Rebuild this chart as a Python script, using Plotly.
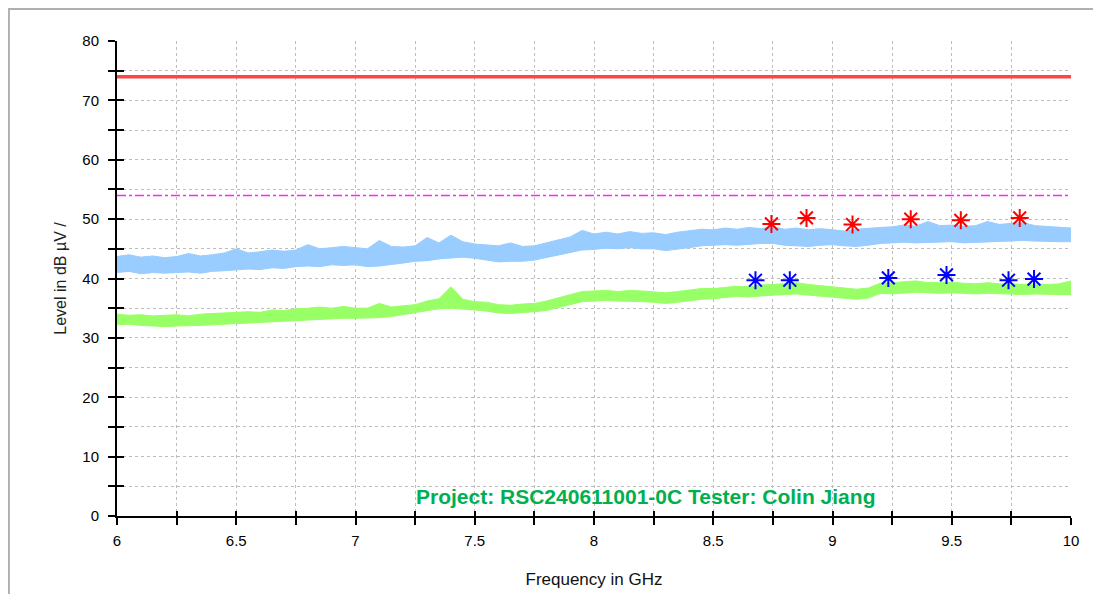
import plotly.graph_objects as go

# ---------------- data ----------------
freq_ghz = [6.00, 6.05, 6.10, 6.15, 6.20, 6.25, 6.30, 6.35, 6.40, 6.45,
            6.50, 6.55, 6.60, 6.65, 6.70, 6.75, 6.80, 6.85, 6.90, 6.95,
            7.00, 7.05, 7.10, 7.15, 7.20, 7.25, 7.30, 7.35, 7.40, 7.45,
            7.50, 7.55, 7.60, 7.65, 7.70, 7.75, 7.80, 7.85, 7.90, 7.95,
            8.00, 8.05, 8.10, 8.15, 8.20, 8.25, 8.30, 8.35, 8.40, 8.45,
            8.50, 8.55, 8.60, 8.65, 8.70, 8.75, 8.80, 8.85, 8.90, 8.95,
            9.00, 9.05, 9.10, 9.15, 9.20, 9.25, 9.30, 9.35, 9.40, 9.45,
            9.50, 9.55, 9.60, 9.65, 9.70, 9.75, 9.80, 9.85, 9.90, 9.95,
            10.00]

# Peak detector trace (light blue band: upper / lower envelope)
peak_upper = [43.7, 44.0, 43.6, 43.8, 43.5, 43.7, 44.2, 43.8, 44.0, 44.3,
              45.0, 44.3, 44.5, 44.8, 44.6, 44.8, 45.7, 45.0, 45.2, 45.4,
              45.2, 45.0, 46.4, 45.4, 45.3, 45.5, 46.9, 46.0, 47.3, 46.2,
              45.8, 45.6, 45.5, 46.0, 45.4, 45.5, 46.0, 46.6, 47.0, 48.1,
              47.5, 47.8, 47.5, 47.9, 47.6, 47.7, 47.4, 47.8, 48.0, 48.3,
              48.2, 48.5, 48.3, 48.6, 48.4, 48.7, 48.3, 48.5, 48.2, 48.4,
              48.2, 48.0, 48.3, 48.5, 48.6, 48.7, 49.0, 48.8, 49.6, 48.9,
              49.0, 48.8, 48.9, 49.6, 49.1, 49.3, 49.4, 48.9, 48.8, 48.6,
              48.5]
peak_lower = [41.0, 41.2, 40.8, 41.0, 40.9, 41.0, 41.1, 40.9, 41.2, 41.3,
              41.4, 41.6, 41.5, 41.8, 41.7, 42.0, 42.1, 42.0, 42.3, 42.2,
              42.3, 42.0, 42.1, 42.3, 42.6, 42.9, 43.0, 43.3, 43.5, 43.6,
              43.4, 43.1, 42.8, 42.9, 42.9, 43.1, 43.5, 44.0, 44.4, 44.8,
              44.9, 45.1, 45.0, 45.2, 45.0, 45.0, 44.7, 44.9, 45.2, 45.5,
              45.6, 45.7, 45.6, 45.8, 45.9, 45.9, 45.6, 45.5, 45.4, 45.6,
              45.7, 45.5, 45.4, 45.6, 45.9, 46.0, 46.1, 46.0, 46.1, 46.2,
              46.2, 46.0, 46.1, 46.2, 46.3, 46.3, 46.4, 46.3, 46.2, 46.2,
              46.2]

# Average detector trace (light green band: upper / lower envelope)
avg_upper = [34.0, 33.8, 33.9, 33.7, 33.8, 33.9, 33.7, 34.0, 34.1, 34.2,
             34.3, 34.4, 34.3, 34.7, 34.6, 34.9, 35.0, 35.2, 35.0, 35.3,
             35.0, 35.0, 35.8, 35.2, 35.4, 35.6, 36.2, 36.6, 38.6, 36.5,
             36.1, 36.0, 35.6, 35.5, 35.7, 35.8, 36.2, 36.7, 37.2, 37.8,
             37.9, 38.0, 37.8, 38.0, 37.9, 37.8, 37.6, 37.8, 38.1, 38.3,
             38.3, 38.5, 38.7, 38.6, 38.9, 39.0, 39.2, 39.3, 39.0, 38.8,
             38.6, 38.4, 38.2, 38.4, 39.2, 39.3, 39.5, 39.6, 39.3, 39.4,
             39.4, 39.2, 39.1, 39.3, 39.1, 39.1, 39.0, 39.1, 39.0, 39.1,
             39.6]
avg_lower = [32.2, 32.3, 32.1, 32.0, 31.9, 32.0, 32.0, 32.1, 32.2, 32.3,
             32.4, 32.5, 32.6, 32.8, 32.8, 33.0, 33.1, 33.2, 33.2, 33.3,
             33.3, 33.3, 33.4, 33.6, 33.9, 34.2, 34.6, 34.9, 35.0, 34.9,
             34.7, 34.5, 34.2, 34.1, 34.2, 34.4, 34.6, 35.1, 35.5, 36.1,
             36.2, 36.3, 36.2, 36.2, 36.1, 36.0, 35.8, 36.0, 36.3, 36.5,
             36.6, 36.8, 37.0, 36.9, 37.1, 37.2, 37.3, 37.4, 37.2, 37.0,
             36.9, 36.7, 36.5, 36.7, 37.5, 37.4, 37.6, 37.7, 37.6, 37.5,
             37.6, 37.5, 37.4, 37.5, 37.4, 37.4, 37.3, 37.4, 37.3, 37.3,
             37.3]

# Limit lines
limit_freq = [6.0, 10.0]
peak_limit = [74.0, 74.0]
avg_limit = [54.0, 54.0]

# Final measurement markers
peak_mark_freq = [8.744, 8.891, 9.084, 9.328, 9.538, 9.785]
peak_mark_level = [49.2, 50.2, 49.1, 50.0, 49.8, 50.2]
avg_mark_freq = [8.677, 8.821, 9.234, 9.478, 9.738, 9.845]
avg_mark_level = [39.7, 39.7, 40.1, 40.6, 39.7, 39.9]

x_tickvals = [6, 6.5, 7, 7.5, 8, 8.5, 9, 9.5, 10]
x_ticktext = ["6", "6.5", "7", "7.5", "8", "8.5", "9", "9.5", "10"]
y_tickvals = [0, 10, 20, 30, 40, 50, 60, 70, 80]

note_text = "Project: RSC240611001-0C Tester: Colin Jiang"
x_title = "Frequency in GHz"
y_title = "Level in dB µV /"

# ---------------- figure ----------------
FONT = "Liberation Sans, Arial, sans-serif"
GRID = "#BDBDBD"
BLUE_TRACE = "#99CCFF"
GREEN_TRACE = "#99FF66"

fig = go.Figure()

# peak band
fig.add_trace(go.Scatter(x=freq_ghz, y=peak_upper, mode="lines",
                         line=dict(color=BLUE_TRACE, width=1),
                         hoverinfo="skip", showlegend=False))
fig.add_trace(go.Scatter(x=freq_ghz, y=peak_lower, mode="lines",
                         line=dict(color=BLUE_TRACE, width=1),
                         fill="tonexty", fillcolor=BLUE_TRACE,
                         hoverinfo="skip", showlegend=False))
# average band
fig.add_trace(go.Scatter(x=freq_ghz, y=avg_upper, mode="lines",
                         line=dict(color=GREEN_TRACE, width=1),
                         hoverinfo="skip", showlegend=False))
fig.add_trace(go.Scatter(x=freq_ghz, y=avg_lower, mode="lines",
                         line=dict(color=GREEN_TRACE, width=1),
                         fill="tonexty", fillcolor=GREEN_TRACE,
                         hoverinfo="skip", showlegend=False))

# limit lines
fig.add_trace(go.Scatter(x=limit_freq, y=peak_limit, mode="lines",
                         line=dict(color="#FF4444", width=3.5),
                         hoverinfo="skip", showlegend=False))
fig.add_trace(go.Scatter(x=limit_freq, y=avg_limit, mode="lines",
                         line=dict(color="#FF22FF", width=1.5, dash="dashdot"),
                         hoverinfo="skip", showlegend=False))

# markers
fig.add_trace(go.Scatter(x=peak_mark_freq, y=peak_mark_level, mode="markers",
                         marker=dict(symbol="asterisk-open", size=15, color="#FF0000",
                                     line=dict(color="#FF0000", width=2)),
                         showlegend=False))
fig.add_trace(go.Scatter(x=avg_mark_freq, y=avg_mark_level, mode="markers",
                         marker=dict(symbol="asterisk-open", size=15, color="#0000FF",
                                     line=dict(color="#0000FF", width=2)),
                         showlegend=False))

# dummy trace to realise the overlay axes (inner half of the tick marks)
fig.add_trace(go.Scatter(x=[None], y=[None], xaxis="x2", yaxis="y2",
                         hoverinfo="skip", showlegend=False))

fig.update_layout(
    width=1093, height=586,
    margin=dict(l=109, r=30, t=33, b=78),
    paper_bgcolor="white", plot_bgcolor="white",
    font=dict(family=FONT, size=15, color="black"),
    xaxis=dict(
        range=[6, 10], tickvals=x_tickvals, ticktext=x_ticktext,
        showline=True, linecolor="black", linewidth=2,
        ticks="outside", ticklen=7, tickwidth=2, tickcolor="black",
        ticklabelstandoff=3, automargin=False,
        showgrid=True, gridcolor=GRID, gridwidth=1, griddash="dot",
        minor=dict(dtick=0.25, tick0=6, ticks="outside", ticklen=7, tickwidth=2,
                   tickcolor="black", showgrid=True, gridcolor=GRID,
                   gridwidth=1, griddash="dot"),
        zeroline=False,
        title=dict(text=x_title, standoff=25,
                   font=dict(family=FONT, size=17, color="#111")),
    ),
    yaxis=dict(
        range=[0, 80], tickvals=y_tickvals,
        showline=True, linecolor="black", linewidth=2,
        ticks="outside", ticklen=7, tickwidth=2, tickcolor="black",
        ticklabelstandoff=6, automargin=False,
        showgrid=True, gridcolor=GRID, gridwidth=1, griddash="dot",
        minor=dict(dtick=5, tick0=0, ticks="outside", ticklen=7, tickwidth=2,
                   tickcolor="black", showgrid=True, gridcolor=GRID,
                   gridwidth=1, griddash="dot"),
        zeroline=False,
        title=dict(text=y_title, standoff=12,
                   font=dict(family=FONT, size=16, color="#222")),
    ),
    xaxis2=dict(overlaying="x", anchor="y", side="bottom", range=[6, 10],
                dtick=0.25, tick0=6, ticks="inside", ticklen=5, tickwidth=2,
                tickcolor="black", showticklabels=False, showgrid=False,
                showline=False, zeroline=False),
    yaxis2=dict(overlaying="y", anchor="x", side="left", range=[0, 80],
                dtick=5, tick0=0, ticks="inside", ticklen=7, tickwidth=2,
                tickcolor="black", showticklabels=False, showgrid=False,
                showline=False, zeroline=False),
    annotations=[dict(text=note_text, xref="paper", yref="paper",
                      x=0.5545, y=0.042, xanchor="center", yanchor="middle",
                      showarrow=False,
                      font=dict(family=FONT, size=21, color="#00B050",
                                weight="bold"))],
    shapes=[dict(type="rect", xref="paper", yref="paper",
                 x0=-0.1133, x1=1.06, y0=-0.25, y1=1.0674,
                 line=dict(color="#B0B0B0", width=2), layer="below")],
)

fig.write_html("out.html")
